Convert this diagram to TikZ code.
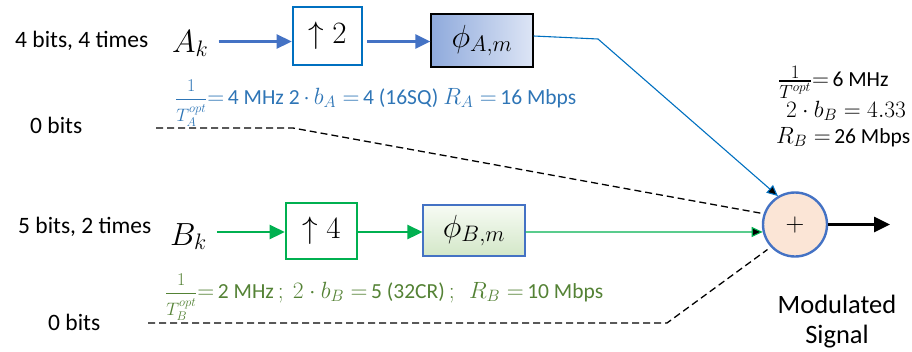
\RequirePackage{fix-cm}
\documentclass[tikz,border=0pt]{standalone}
\usepackage{amsmath}
\usepackage{fontspec}
\setmainfont{Carlito}
\usetikzlibrary{arrows.meta,calc}

\definecolor{ablue}{HTML}{4472C4}
\definecolor{bblue}{HTML}{0070C0}
\definecolor{tblue}{HTML}{2E75B6}
\definecolor{bgreen}{HTML}{00B050}
\definecolor{tgreen}{HTML}{548235}
\definecolor{peach}{HTML}{FBE5D6}
\definecolor{phiAdark}{HTML}{8FAADC}
\definecolor{phiAlight}{HTML}{DDE5F5}
\definecolor{phiBtop}{HTML}{F7FBF4}
\definecolor{phiBbot}{HTML}{D3E7C8}

% math set a little larger than the surrounding text
\newcommand{\mth}[1]{{\fontsize{23.5}{25}\selectfont$#1$}}
% rate fraction 1/T with a heavy bar
\newcommand{\rate}[1]{{\fontsize{18}{22}\selectfont$\genfrac{}{}{1.6pt}{0}{1}{#1}$}}
% flatter variant for the stacked lines on the right
\newcommand{\ratesm}[1]{{\fontsize{19}{22}\selectfont$\genfrac{}{}{1.6pt}{1}{\textstyle 1}{\textstyle #1}$}}

\tikzset{
  lbl/.style={font=\fontsize{23.5}{26}\selectfont, inner sep=0pt},
  sym/.style={font=\fontsize{32}{36}\selectfont, inner sep=0pt},
  blockbox/.style={draw, line width=2.6pt, inner sep=0pt, font=\fontsize{31}{34}\selectfont},
  phibox/.style={draw, inner sep=0pt, font=\fontsize{32}{36}\selectfont},
  thickarrow/.style={line width=2.6pt, -{Triangle[length=15pt,width=14pt]}},
  thinarrow/.style={line width=1.1pt, -{Triangle[length=11pt,width=10pt,fill=black]}},
  zeroline/.style={dashed, line width=1.3pt, dash pattern=on 7pt off 4pt},
  note/.style={font=\fontsize{21.5}{24}\selectfont, inner sep=0pt},
}

\begin{document}
\begin{tikzpicture}[x=1pt,y=-1pt]
\useasboundingbox (0,0) rectangle (912,351);

% ---------- branch A ----------
\node[lbl, anchor=base west] (labA) at (15,47) {4 bits, 4 times};
\node[sym, anchor=base west] (Ak) at (172,52) {$A_k$};
\node[blockbox, draw=bblue, minimum width=69pt, minimum height=58pt] (up2) at (327.5,36) {$\uparrow 2$};
\node[phibox, draw=black, line width=1.2pt, minimum width=102pt, minimum height=53pt,
      left color=phiAdark, right color=phiAlight] (phiA) at (482,40.5) {$\phi_{A,m}$};
\coordinate (rowA) at (0,41.5);
\draw[thickarrow, draw=ablue, fill=ablue, shorten <=10pt] (Ak.east |- rowA) -- (up2.west |- rowA);
\draw[thickarrow, draw=ablue, fill=ablue] ([xshift=4pt]up2.east |- rowA) -- (phiA.west |- rowA);

\node[note, text=tblue, anchor=base west] (txtA) at (175,104)
  {\rate{T_A^{opt}}\mth{=}\,4 MHz 2\,\mth{\cdot\, b_A =}\,4 (16SQ) \mth{R_A =}\,16 Mbps};

\node[lbl, anchor=base west] (zeroA) at (30,133) {0 bits};

% ---------- branch B ----------
\node[lbl, anchor=base west] (labB) at (18,233) {5 bits, 2 times};
\node[sym, anchor=base west] (Bk) at (170,245) {$B_k$};
\node[blockbox, draw=bgreen, minimum width=71pt, minimum height=56pt] (up4) at (321.5,231) {$\uparrow 4$};
\node[phibox, draw=ablue, line width=1.1pt, minimum width=102pt, minimum height=51pt,
      top color=phiBtop, bottom color=phiBbot] (phiB) at (474,230.5) {$\phi_{B,m}$};
\coordinate (rowB) at (0,232);
\draw[thickarrow, draw=bgreen, fill=bgreen, shorten <=10pt] (Bk.east |- rowB) -- (up4.west |- rowB);
\draw[thickarrow, draw=bgreen, fill=bgreen] (up4.east |- rowB) -- (phiB.west |- rowB);

\node[note, text=tgreen, anchor=base west] (txtB) at (165,298)
  {\rate{T_B^{opt}}\mth{=}\,2 MHz\mth{\,;\ 2\cdot b_B =}\,5 (32CR)\mth{\,;\ \ R_B =}\,10 Mbps};

\node[lbl, anchor=base west] (zeroB) at (48,330) {0 bits};

% ---------- summing junction ----------
\node[circle, draw=ablue, line width=2.4pt, fill=peach, minimum size=64pt, inner sep=0pt,
      font=\fontsize{26}{28}\selectfont] (sum) at (795,224.5) {$+$};

\coordinate (bendA) at (598,39);
\draw[thinarrow, draw=bblue] ([yshift=4.5pt]phiA.east) -- (bendA) -- (sum.121);
\draw[thinarrow, draw=bgreen] (phiB.east |- rowB) -- (sum.193);

\coordinate (zA0) at (156,128);
\coordinate (zA1) at (293,128);
\draw[zeroline, shorten >=3pt] (zA0) -- (zA1) -- (sum.161);
\coordinate (zB0) at (148,323);
\coordinate (zB1) at (667,323);
\draw[zeroline, shorten >=4pt] (zB0) -- (zB1) -- (sum.223);

\coordinate (outEnd) at (890,224.5);
\draw[line width=2.6pt, -{Triangle[length=16pt,width=15pt]}] (sum.east) -- (outEnd);

\node[lbl, font=\fontsize{26.5}{30}\selectfont, align=center, anchor=north] (modsig) at (837,295)
  {Modulated\\Signal};

% combined rate of the two branches
\node[note, anchor=base west] (rate1) at (778,86) {\ratesm{T^{\scriptstyle opt}}\mth{=}\,6 MHz};
\node[note, anchor=base west] (rate2) at (786,117) {\mth{2\cdot b_B = 4.33}};
\node[note, anchor=base west] (rate3) at (776,143) {\mth{R_B =}\,26 Mbps};
\end{tikzpicture}
\end{document}
